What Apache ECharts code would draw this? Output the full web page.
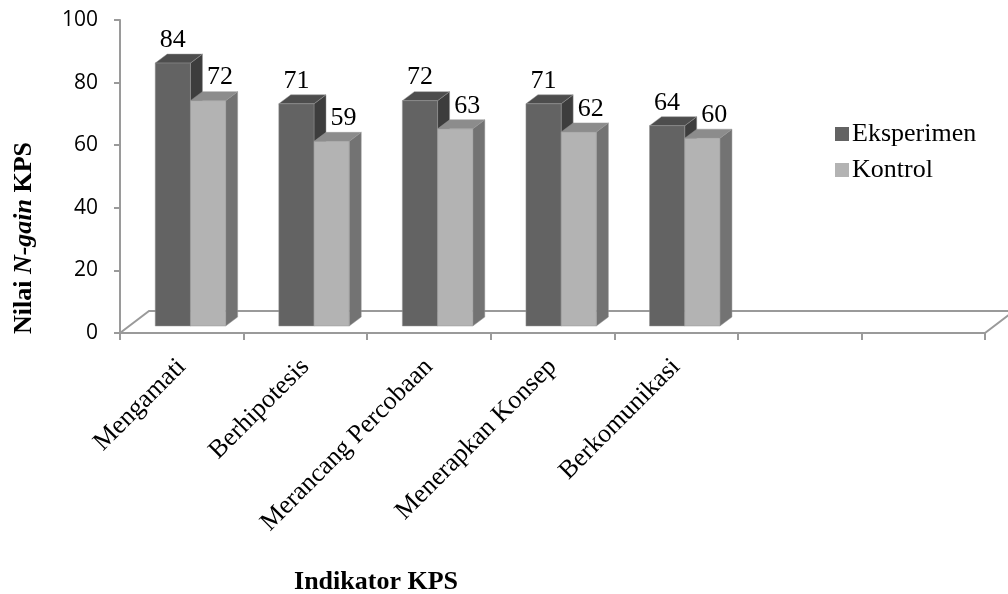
<!DOCTYPE html>
<html>
<head>
<meta charset="utf-8">
<script src="https://cdn.jsdelivr.net/npm/echarts@6/dist/echarts.min.js"></script>
<style>
  html, body { margin: 0; padding: 0; background: #fff; }
  #chart { width: 1008px; height: 594px; }
</style>
</head>
<body>
<div id="chart"></div>
<script>
// KPS indicators (two trailing empty slots keep the axis extent)
const categories = ['Mengamati', 'Berhipotesis', 'Merancang Percobaan', 'Menerapkan Konsep', 'Berkomunikasi', '', ''];
const eksperimen = [84, 71, 72, 71, 64];
const kontrol = [72, 59, 63, 62, 60];
const yTicks = { min: 0, max: 100, interval: 20 };

const SERIF = '"Liberation Serif", "Times New Roman", serif';
const SANS = '"Open Sans", "Noto Sans", sans-serif';

// 3D look of the bars
const FACE_W = 0.285;     // front face width, fraction of a category
const DX = 12, DY = 9;    // depth offset of top/side faces
const LIFT = 7;           // bars stand in the middle of the floor depth
const FLOOR_DX = 29, FLOOR_DY = 22;

const palettes = [
  { front: '#636363', top: '#4d4d4d', side: '#3d3d3d', offset: 0.285, labelDx: 0 },
  { front: '#b3b3b3', top: '#8c8c8c', side: '#737373', offset: 0.57, labelDx: 12 }
];

function toPairs(arr) { return arr.map((v, i) => [i, v]); }

function barRenderer(pIdx) {
  const p = palettes[pIdx];
  return function (params, api) {
    const ci = api.value(0), v = api.value(1);
    const base = api.coord([ci, 0]);
    const top = api.coord([ci, v]);
    const W = api.size([1, 0])[0];
    const L = base[0] - W / 2 + W * p.offset;
    const R = L + W * FACE_W;
    const yb = base[1] - LIFT, yt = top[1] - LIFT;
    const edge = { stroke: 'rgba(150,150,150,0.6)', lineWidth: 0.8 };
    return {
      type: 'group',
      children: [
        { type: 'polygon', shape: { points: [[R, yt], [R + DX, yt - DY], [R + DX, yb - DY], [R, yb]] },
          style: Object.assign({ fill: p.side }, edge) },
        { type: 'polygon', shape: { points: [[L, yt], [R, yt], [R + DX, yt - DY], [L + DX, yt - DY]] },
          style: Object.assign({ fill: p.top }, edge) },
        { type: 'rect', shape: { x: L, y: yt, width: R - L, height: yb - yt },
          style: Object.assign({ fill: p.front }, edge) },
        { type: 'text', style: {
            text: String(v), x: (L + R) / 2 + p.labelDx, y: yt - 23,
            align: 'center', verticalAlign: 'middle',
            fontFamily: SERIF, fontSize: 26, fill: '#000' } }
      ]
    };
  };
}

// Floor parallelogram behind the bars
function floorRenderer(params, api) {
  const cs = params.coordSys;
  const x0 = cs.x, x1 = cs.x + cs.width, y0 = cs.y + cs.height;
  const st = { stroke: '#9a9a9a', lineWidth: 2, fill: null };
  return {
    type: 'group',
    children: [
      { type: 'polyline', shape: { points: [[x0, y0], [x0 + FLOOR_DX, y0 - FLOOR_DY], [x1 + FLOOR_DX, y0 - FLOOR_DY], [x1, y0]] }, style: st }
    ]
  };
}

const chart = echarts.init(document.getElementById('chart'));
chart.setOption({
  animation: false,
  backgroundColor: '#fff',
  grid: { left: 120, right: 23, top: 20, bottom: 261, containLabel: false },
  legend: {
    data: ['Eksperimen', 'Kontrol'],
    orient: 'vertical',
    left: 830, top: 116,
    icon: 'rect', itemWidth: 14, itemHeight: 14, itemGap: 10,
    textStyle: { fontFamily: SERIF, fontSize: 26, color: '#000', padding: [0, 0, 0, -2] }
  },
  xAxis: {
    type: 'category',
    data: categories,
    boundaryGap: true,
    axisLine: { lineStyle: { color: '#9a9a9a', width: 2 } },
    axisTick: { show: true, alignWithLabel: false, interval: 0, length: 7, lineStyle: { color: '#9a9a9a', width: 2 } },
    axisLabel: { interval: 0, rotate: 45, margin: 30, fontFamily: SERIF, fontSize: 26, color: '#000' },
    splitLine: { show: false }
  },
  yAxis: {
    type: 'value',
    min: yTicks.min, max: yTicks.max, interval: yTicks.interval,
    axisLine: { show: true, lineStyle: { color: '#9a9a9a', width: 2 } },
    axisTick: { show: true, length: 6, lineStyle: { color: '#9a9a9a', width: 2 } },
    axisLabel: { margin: 22, fontFamily: SANS, fontSize: 21, color: '#000' },
    splitLine: { show: false }
  },
  graphic: [
    { type: 'text', x: 24, y: 238, rotation: Math.PI / 2,
      style: {
        text: '{b|Nilai }{i|N-gain}{b| KPS}',
        align: 'center', verticalAlign: 'middle',
        rich: {
          b: { fontFamily: SERIF, fontSize: 26, fontWeight: 'bold', fill: '#000' },
          i: { fontFamily: SERIF, fontSize: 26, fontWeight: 'bold', fontStyle: 'italic', fill: '#000' }
        }
      } },
    { type: 'text', x: 376, y: 582,
      style: { text: 'Indikator KPS', align: 'center', verticalAlign: 'middle',
        fontFamily: SERIF, fontSize: 26, fontWeight: 'bold', fill: '#000' } }
  ],
  series: [
    { type: 'custom', name: 'floor', renderItem: floorRenderer, data: [[0, 0]], z: 1, silent: true },
    { type: 'custom', name: 'Eksperimen', renderItem: barRenderer(0), data: toPairs(eksperimen),
      encode: { x: 0, y: 1 }, itemStyle: { color: palettes[0].front }, z: 2 },
    { type: 'custom', name: 'Kontrol', renderItem: barRenderer(1), data: toPairs(kontrol),
      encode: { x: 0, y: 1 }, itemStyle: { color: palettes[1].front }, z: 3 }
  ]
});
</script>
</body>
</html>
